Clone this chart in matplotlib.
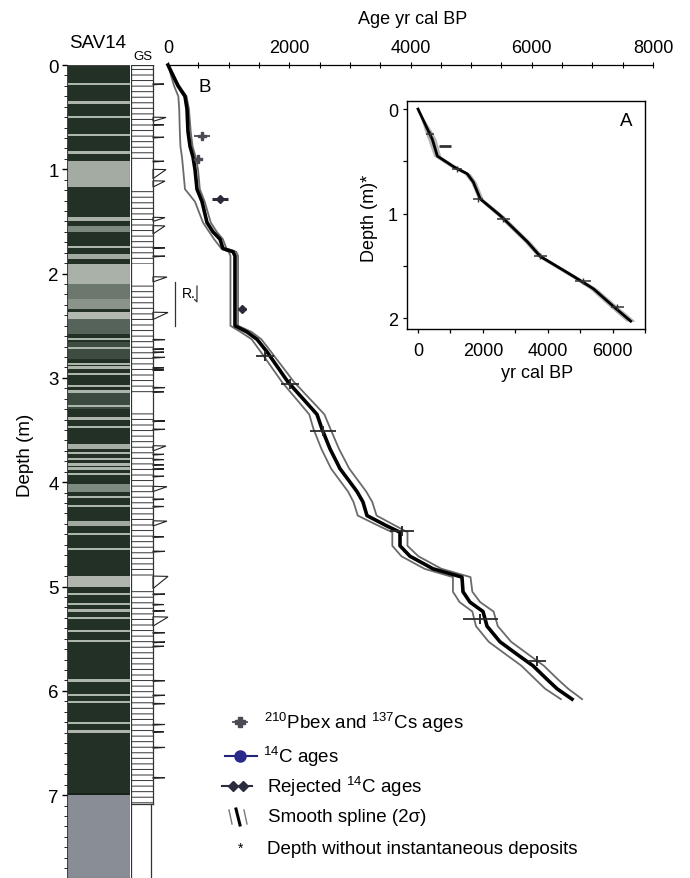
import matplotlib
matplotlib.use('Agg')
import matplotlib.pyplot as plt
from matplotlib.patches import Rectangle, Polygon
from matplotlib.ticker import MultipleLocator

plt.rcParams['font.family'] = ['Liberation Sans', 'DejaVu Sans']
plt.rcParams['mathtext.fontset'] = 'custom'
plt.rcParams['mathtext.rm'] = 'Liberation Sans'
plt.rcParams['hatch.linewidth'] = 0.7

# ---------------- data ----------------
# smooth spline (main panel B): depth (m), age mid / 2-sigma envelope (yr cal BP)
spl_depth = [0.00, 0.20, 0.30, 0.42, 0.64, 0.78, 0.88, 1.00, 1.19, 1.31, 1.51, 1.60, 1.67, 1.76,
             1.79, 1.83, 2.50, 2.56, 2.63, 2.75, 3.04, 3.35, 3.49, 3.68, 3.87, 4.09, 4.19, 4.32,
             4.42, 4.48, 4.61, 4.71, 4.83, 4.91, 5.05, 5.15, 5.24, 5.38, 5.53, 5.65, 5.76, 5.89,
             5.98, 6.08]
spl_mid = [0, 165, 280, 313, 330, 363, 412, 445, 478, 561, 643, 742, 858, 907,
           1072, 1105, 1105, 1303, 1468, 1633, 1980, 2458, 2540, 2672, 2837, 3118, 3216, 3282,
           3612, 3827, 3827, 3992, 4371, 4849, 4866, 4981, 5196, 5262, 5476, 5757, 6021, 6252,
           6416, 6664]
spl_lo = [0, 100, 170, 185, 195, 205, 230, 250, 280, 445, 577, 680, 760, 880,
          1000, 1030, 1030, 1200, 1380, 1530, 1880, 2330, 2400, 2530, 2690, 2970, 3060, 3130,
          3480, 3700, 3700, 3850, 4230, 4700, 4700, 4810, 5020, 5080, 5290, 5570, 5830, 6060,
          6220, 6480]
spl_hi = [0, 185, 305, 345, 375, 405, 455, 495, 525, 605, 705, 805, 905, 965,
          1125, 1155, 1155, 1380, 1540, 1700, 2080, 2580, 2680, 2820, 2990, 3270, 3370, 3440,
          3760, 3950, 3950, 4130, 4510, 4990, 5020, 5150, 5370, 5440, 5660, 5940, 6200, 6430,
          6600, 6830]

# dated samples (panel B)
pb_depth = [0.68, 0.90]
pb_age = [560, 495]
pb_err = [130, 60]
c14_depth = [2.79, 3.06, 3.51, 4.47, 5.31, 5.71]
c14_age = [1600, 2010, 2557, 3860, 5150, 6087]
c14_err = [150, 150, 220, 200, 290, 150]
rej_depth = [1.28, 2.34]
rej_age = [858, 1220]
rej_err = [125, 60]

# inset A (depth without instantaneous deposits)
ins_depth = [0.00, 0.21, 0.29, 0.45, 0.55, 0.62, 0.70, 0.86, 1.02, 1.27, 1.41, 1.60, 1.72, 1.89, 2.03]
ins_mid = [0, 318, 441, 596, 1090, 1520, 1707, 1920, 2540, 3370, 3770, 4790, 5410, 6030, 6560]
ins_lo = [0, 200, 300, 480, 980, 1420, 1620, 1840, 2440, 3270, 3670, 4680, 5290, 5900, 6420]
ins_hi = [0, 420, 560, 700, 1190, 1620, 1800, 2010, 2640, 3470, 3870, 4900, 5530, 6160, 6700]
ins_pt_depth = [0.24, 0.57, 0.86, 1.05, 1.41, 1.65, 1.89]
ins_pt_age = [380, 1210, 1860, 2630, 3775, 5100, 6150]
ins_pt_err = [120, 150, 150, 200, 200, 250, 200]
ins_rej_depth = [0.35]
ins_rej_age = [840]

# core SAV14 log
core_blocks_top = [0.92, 1.46, 1.54, 1.81, 1.91, 2.10, 2.24, 2.37, 2.44, 2.66, 3.14, 3.63, 4.02, 4.37, 4.90, 7.00]
core_blocks_bot = [1.17, 1.50, 1.60, 1.86, 2.10, 2.24, 2.34, 2.44, 2.58, 2.82, 3.30, 3.68, 4.09, 4.42, 5.00, 7.80]
core_blocks_col = ['#a3aba2', '#a9b1a7', '#7d897e', '#a3aba1', '#aab1a8', '#6c786d', '#8a9489',
                   '#b3b9b1', '#56635a', '#3e4b41', '#3d4a40', '#a6ada4', '#7f8a80', '#a2aaa0', '#b0b6ae', '#898e96']
core_lines = [0.18, 0.36, 0.50, 0.67, 0.84, 1.745, 2.63, 2.71, 2.87, 2.90, 2.96, 3.08, 3.13, 3.27, 3.39,
              3.47, 3.72, 3.78, 3.83, 3.87, 3.92, 4.14, 4.23, 4.50, 4.64, 5.07, 5.17, 5.23, 5.30, 5.43,
              5.52, 5.90, 6.04, 6.11, 6.31, 6.39]

# grain-size (GS) log spikes: top, bottom depth and tip position
gs_top = [0.18, 0.50, 0.57, 0.69, 0.92, 1.00, 1.11, 1.46, 1.54, 1.75, 1.83, 2.03, 2.37, 2.63, 2.72, 2.75,
          2.80, 2.90, 2.92, 3.09, 3.13, 3.41, 3.49, 3.65, 3.73, 3.78, 3.83, 3.87, 3.94, 4.04, 4.16,
          4.23, 4.37, 4.52, 4.66, 4.90, 5.07, 5.17, 5.23, 5.29, 5.44, 5.53, 5.57, 5.90, 6.04, 6.12,
          6.32, 6.39, 6.54, 6.83]
gs_bot = [0.19, 0.54, 0.58, 0.70, 0.93, 1.09, 1.17, 1.50, 1.62, 1.76, 1.84, 2.08, 2.44, 2.64, 2.73, 2.76,
          2.81, 2.91, 2.93, 3.10, 3.14, 3.42, 3.50, 3.70, 3.74, 3.79, 3.84, 3.88, 3.95, 4.09, 4.17,
          4.24, 4.42, 4.53, 4.67, 5.02, 5.08, 5.18, 5.24, 5.38, 5.45, 5.54, 5.58, 5.91, 6.05, 6.13,
          6.33, 6.40, 6.55, 6.84]
gs_tip = [33, 35, 33, 33, 33, 35, 34, 34, 34, 34, 34, 36, 37, 34, 33, 33,
          34, 33, 33, 34, 33, 34, 34, 35, 33, 33, 33, 33, 33, 36, 33,
          33, 36, 33, 34, 37, 34, 33, 34, 37, 34, 34, 33, 34, 34, 34,
          34, 33, 34, 34]
gs_plain_top = [0.92, 1.91, 3.17, 4.90]
gs_plain_bot = [1.17, 2.10, 3.33, 5.00]

# ---------------- layout ----------------
W, H = 690, 879
fig = plt.figure(figsize=(6.9, 8.79), dpi=100)


def fx(px):
    return px / W


def fy(py):
    return 1 - py / H


DTOP = 66
PXM = 104.3
DMAX = (H - DTOP) / PXM
axh = (H - DTOP) / H

# core column
axc = fig.add_axes([fx(67), 0, (130 - 67) / W, axh])
axc.set_xlim(0, 1)
axc.set_ylim(DMAX, 0)
axc.axhspan(0, 7.0, color='#233026', lw=0)
for t, b, c in zip(core_blocks_top, core_blocks_bot, core_blocks_col):
    axc.axhspan(t, b, color=c, lw=0)
for d in core_lines:
    axc.axhspan(d - 0.011, d + 0.011, color='#aeb6ac', lw=0)
axc.axhspan(6.98, 7.0, color='#1a221c', lw=0)
for s in axc.spines.values():
    s.set_visible(False)
axc.add_patch(Rectangle((0, 0), 1, DMAX, fill=False, ec='#444', lw=0.8, transform=axc.transData))
axc.set_xticks([])
axc.set_yticks(range(8))
axc.yaxis.set_minor_locator(MultipleLocator(0.1))
axc.tick_params(axis='y', which='major', length=3.5, width=1, pad=2.5, labelsize=13.5)
axc.tick_params(axis='y', which='minor', length=2.2, width=0.6)

# grain-size column
axg = fig.add_axes([fx(131), 0, (170 - 131) / W, axh])
axg.set_xlim(0, 39)
axg.set_ylim(DMAX, 0)
axg.axis('off')
axg.patch.set_alpha(0)
edges = [0.0] + sorted(gs_plain_top + gs_plain_bot) + [7.09]
segs = list(zip(edges[0::2], edges[1::2]))
for t, b in segs:
    axg.add_patch(Rectangle((0, t), 22, b - t, facecolor='white', edgecolor='#333', hatch='---', lw=0))
for t, b in zip(gs_plain_top, gs_plain_bot):
    axg.add_patch(Rectangle((0, t), 22, b - t, facecolor='white', lw=0))
axg.plot([0, 0], [0, DMAX], color='#333', lw=0.9)
axg.plot([22, 22], [0, 7.09], color='#333', lw=0.9)
axg.plot([0, 22], [0, 0], color='#333', lw=0.9)
axg.plot([0, 22], [7.09, 7.09], color='#333', lw=0.9)
axg.plot([20, 20], [7.09, DMAX], color='#333', lw=0.9)
for t, b, tip in zip(gs_top, gs_bot, gs_tip):
    axg.add_patch(Polygon([(22, t), (tip, t + 0.003), (22, b)], closed=True,
                          facecolor='white', edgecolor='#222', lw=0.8))

# main panel B
axm = fig.add_axes([fx(168), 0, (653 - 168) / W, axh])
axm.patch.set_alpha(0)
axm.set_xlim(0, 8000)
axm.set_ylim(DMAX, 0)
for s in ['left', 'right', 'bottom']:
    axm.spines[s].set_visible(False)
axm.spines['top'].set_linewidth(0.9)
axm.xaxis.tick_top()
axm.set_xticks([0, 2000, 4000, 6000, 8000])
axm.xaxis.set_minor_locator(MultipleLocator(500))
axm.tick_params(axis='x', which='both', direction='inout', length=5, width=0.8, pad=4, labelsize=13)
axm.set_yticks([])

axm.plot(spl_lo, spl_depth, color='#6a6a6a', lw=1.3, clip_on=False)
axm.plot(spl_hi, spl_depth, color='#6a6a6a', lw=1.3, clip_on=False)
axm.plot(spl_mid, spl_depth, color='black', lw=2.6, clip_on=False)

axm.errorbar(pb_age, pb_depth, xerr=pb_err, fmt='P', ms=5.5, color='#4a4a55', elinewidth=1.3, capsize=0)
axm.errorbar(rej_age, rej_depth, xerr=rej_err, fmt='D', ms=4, color='#2b2b3a', elinewidth=2.2, capsize=0)
axm.errorbar(c14_age, c14_depth, xerr=c14_err, fmt='|', ms=7, mew=1.4, color='#2a2a2a',
             elinewidth=1.3, capsize=0)

# "R." mark
axm.plot([115, 115], [2.08, 2.50], color='#333', lw=0.9, clip_on=False)
axm.text(230, 2.19, 'R.', fontsize=10, va='center', ha='left')
axm.plot([478, 478, 440], [2.12, 2.27, 2.25], color='#333', lw=0.9)

# inset A
axi = fig.add_axes([fx(407), fy(330), (645 - 407) / W, (330 - 102) / H])
axi.set_xlim(-340, 7000)
axi.set_ylim(2.105, -0.077)
axi.set_xticks([0, 2000, 4000, 6000])
axi.xaxis.set_minor_locator(MultipleLocator(1000))
axi.set_yticks([0, 1, 2])
axi.yaxis.set_minor_locator(MultipleLocator(0.5))
axi.tick_params(which='both', length=3, width=0.9, labelsize=13)
axi.tick_params(axis='x', pad=6)
axi.tick_params(axis='y', pad=3.5)
for s in axi.spines.values():
    s.set_linewidth(1.0)
axi.fill_betweenx(ins_depth, ins_lo, ins_hi, color='#b5b5b5', lw=0)
axi.plot(ins_mid, ins_depth, color='black', lw=2.0)
axi.errorbar(ins_pt_age, ins_pt_depth, xerr=ins_pt_err, fmt='|', ms=5, color='#333', elinewidth=1.1, capsize=0)
axi.plot(ins_rej_age, ins_rej_depth, marker='_', ms=8, mew=2, color='#333', ls='none')

# texts
fig.text(fx(413), fy(20), 'Age yr cal BP', ha='center', va='center', fontsize=13)
fig.text(fx(98), fy(44), 'SAV14', ha='center', va='center', fontsize=13.5)
fig.text(fx(143), fy(57), 'GS', ha='center', va='center', fontsize=9.5)
fig.text(fx(25), fy(455), 'Depth (m)', ha='center', va='center', rotation=90, fontsize=13.5)
fig.text(fx(205), fy(88), 'B', ha='center', va='center', fontsize=13.5)
fig.text(fx(626), fy(121), 'A', ha='center', va='center', fontsize=13.5)
fig.text(fx(369), fy(218), 'Depth (m)*', ha='center', va='center', rotation=90, fontsize=13)
fig.text(fx(537), fy(374), 'yr cal BP', ha='center', va='center', fontsize=13)

# legend (drawn in a pixel-space overlay)
axl = fig.add_axes([0, 0, 1, 1])
axl.set_xlim(0, W)
axl.set_ylim(H, 0)
axl.axis('off')
axl.patch.set_alpha(0)
axl.plot([233, 247], [723, 723], color='#4a4a55', lw=1.3)
axl.plot([240], [723], marker='P', ms=6.5, color='#4a4a55')
axl.plot([225, 257], [757, 757], color='#23237a', lw=1.5)
axl.plot([240], [757], marker='o', ms=8, color='#2a2a8a')
axl.plot([222, 252], [787, 787], color='#2b2b40', lw=1.5)
axl.plot([233, 243], [787, 787], marker='D', ms=5.5, color='#2b2b40', ls='none')
axl.plot([229, 232], [811, 825], color='#777', lw=1.0)
axl.plot([236, 240], [810, 826], color='black', lw=2.2)
axl.plot([244, 247], [811, 825], color='#777', lw=1.0)
axl.text(241, 849, '*', ha='center', va='center', fontsize=10)
leg_y = [723, 757, 787, 818, 850]
leg_x = [264, 263, 267, 268, 267]
leg_txt = [r'$^{210}$Pbex and $^{137}$Cs ages', r'$^{14}$C ages', r'Rejected $^{14}$C ages',
           'Smooth spline (2\u03c3)', 'Depth without instantaneous deposits']
for x, y, t in zip(leg_x, leg_y, leg_txt):
    axl.text(x, y, t, ha='left', va='center', fontsize=13.5)

fig.savefig('out.png', dpi=100)
